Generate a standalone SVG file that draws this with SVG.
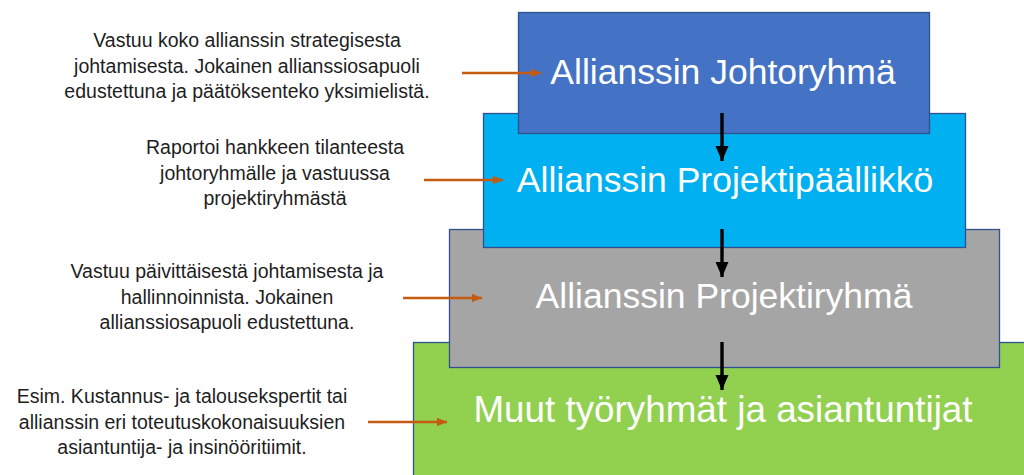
<svg xmlns="http://www.w3.org/2000/svg" width="1024" height="475" viewBox="0 0 1024 475">
<style>
.box{stroke:#2F528F;stroke-width:1.3}
.big{font-family:"Liberation Sans",Arial,sans-serif;font-size:35.5px;fill:#FFFFFF;text-anchor:middle}
.note{font-family:"Liberation Sans",Arial,sans-serif;font-size:19.5px;fill:#1E1E1E;text-anchor:middle}
.orange{stroke:#C55A11;stroke-width:2.6;fill:none}
.black{stroke:#000000;stroke-width:3.4;fill:none}
</style>
<defs>
<marker id="ho" markerUnits="userSpaceOnUse" markerWidth="12" markerHeight="10" refX="10" refY="5" orient="auto">
<path d="M0,0.8 L10,5 L0,9.2 Z" fill="#C55A11"/>
</marker>
<marker id="hb" markerUnits="userSpaceOnUse" markerWidth="16" markerHeight="16" refX="15" refY="7" orient="auto">
<path d="M0,0.5 L15,7 L0,13.5 Z" fill="#000000"/>
</marker>
</defs>
<rect width="1024" height="475" fill="#FFFFFF"/>
<g id="node-muut">
<rect class="box" x="413.5" y="342.5" width="620" height="140" fill="#92D050"/>
<text class="big" x="723" y="422" style="font-size:36.8px">Muut työryhmät ja asiantuntijat</text>
</g>
<g id="node-projektiryhma">
<rect class="box" x="449.5" y="229.5" width="550" height="138" fill="#A5A5A5"/>
<text class="big" x="724" y="308">Allianssin Projektiryhmä</text>
</g>
<g id="node-projektipaallikko">
<rect class="box" x="483.5" y="113.5" width="482" height="134" fill="#00B0F0"/>
<text class="big" x="725" y="192">Allianssin Projektipäällikkö</text>
</g>
<g id="node-johtoryhma">
<rect class="box" x="518.5" y="12.5" width="411" height="121" fill="#4472C4"/>
<text class="big" x="723" y="84">Allianssin Johtoryhmä</text>
</g>
<g id="note-1">
<text class="note" x="247" y="47">Vastuu koko allianssin strategisesta</text>
<text class="note" x="247" y="72.5">johtamisesta. Jokainen allianssiosapuoli</text>
<text class="note" x="247" y="98">edustettuna ja päätöksenteko yksimielistä.</text>
</g>
<g id="note-2">
<text class="note" x="275" y="154">Raportoi hankkeen tilanteesta</text>
<text class="note" x="275" y="179.5">johtoryhmälle ja vastuussa</text>
<text class="note" x="275" y="205">projektiryhmästä</text>
</g>
<g id="note-3">
<text class="note" x="227" y="278">Vastuu päivittäisestä johtamisesta ja</text>
<text class="note" x="227" y="303.5">hallinnoinnista. Jokainen</text>
<text class="note" x="227" y="329">allianssiosapuoli edustettuna.</text>
</g>
<g id="note-4">
<text class="note" x="182" y="403">Esim. Kustannus- ja talousekspertit tai</text>
<text class="note" x="182" y="428.5">allianssin eri toteutuskokonaisuuksien</text>
<text class="note" x="182" y="454">asiantuntija- ja insinööritiimit.</text>
</g>
<g id="connectors">
<line class="orange" x1="462" y1="73" x2="541" y2="73" marker-end="url(#ho)"/>
<line class="orange" x1="424" y1="180" x2="503" y2="180" marker-end="url(#ho)"/>
<line class="orange" x1="403" y1="298" x2="482" y2="298" marker-end="url(#ho)"/>
<line class="orange" x1="368" y1="422" x2="447" y2="422" marker-end="url(#ho)"/>
<line class="black" x1="722" y1="113" x2="722" y2="161" marker-end="url(#hb)"/>
<line class="black" x1="722" y1="229" x2="722" y2="277" marker-end="url(#hb)"/>
<line class="black" x1="722" y1="342" x2="722" y2="390" marker-end="url(#hb)"/>
</g>
</svg>
